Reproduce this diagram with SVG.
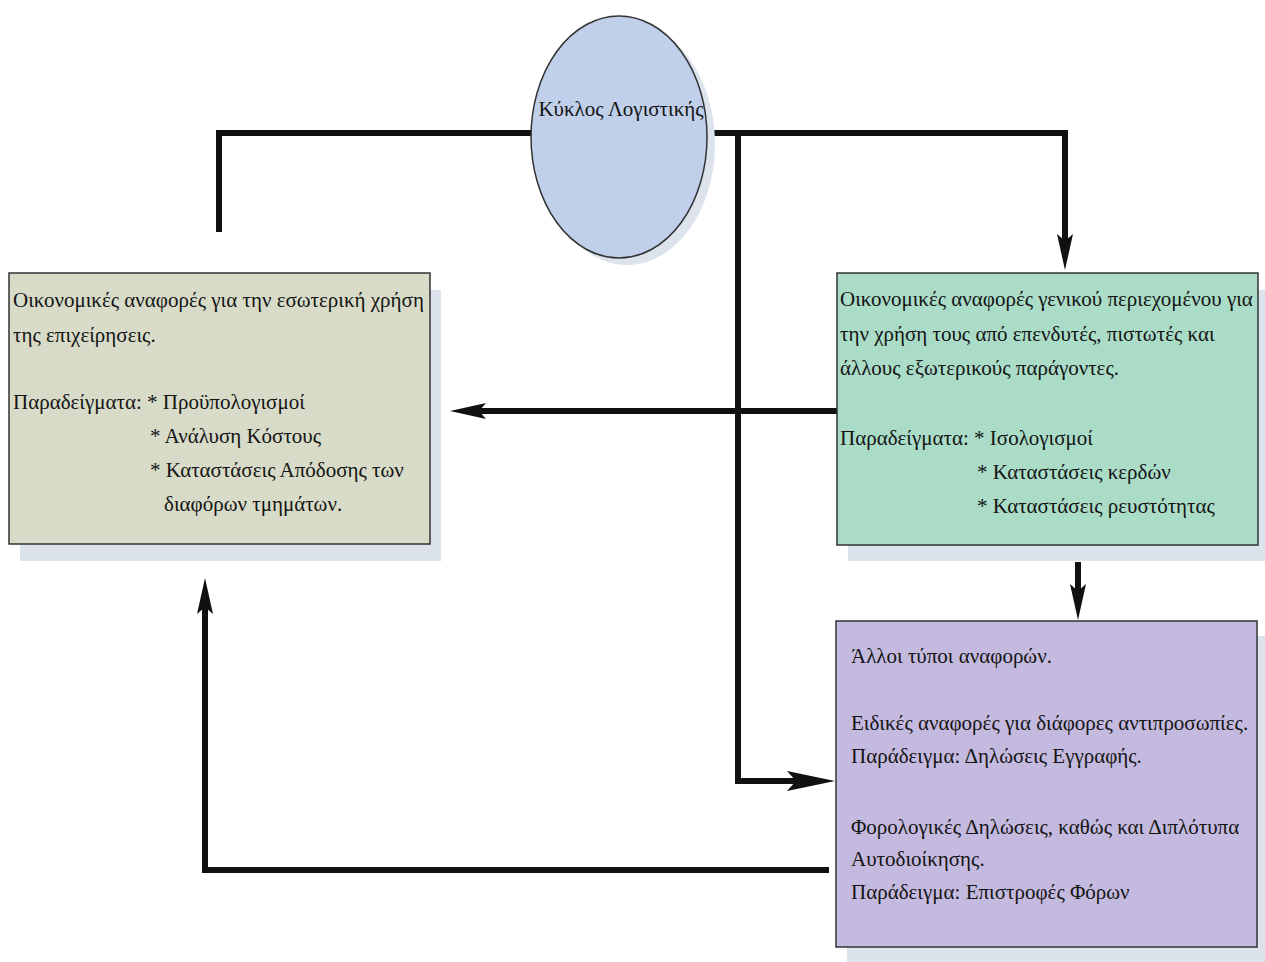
<svg xmlns="http://www.w3.org/2000/svg" width="1265" height="962" viewBox="0 0 1265 962">
<style>
.t{font-family:"Liberation Serif","Times New Roman",serif;font-size:21px;fill:#141414}
.box{stroke:#333;stroke-width:1.5}
.shadow{fill:#dce3ed}
.line{fill:none;stroke:#111;stroke-width:6;stroke-linejoin:miter}
</style>
<defs>
<marker id="arrowL" markerUnits="userSpaceOnUse" markerWidth="48" markerHeight="20" viewBox="0 0 48 20" refX="11" refY="10" orient="auto" overflow="visible">
<path d="M0,0 L48,10 L0,20 L9,10 z" fill="#111"/>
</marker>
<marker id="arrowM" markerUnits="userSpaceOnUse" markerWidth="36" markerHeight="16" viewBox="0 0 36 16" refX="9" refY="8" orient="auto" overflow="visible">
<path d="M0,0 L36,8 L0,16 L7,8 z" fill="#111"/>
</marker>
</defs>
<rect width="1265" height="962" fill="#fff"/>

<g id="connectors">
<path class="line" d="M219,232 L219,133 L1065,133 L1065,243" marker-end="url(#arrowM)"/>
<path class="line" d="M738,133 L738,781 L798,781" marker-end="url(#arrowL)"/>
<path class="line" d="M837,411 L477,411" marker-end="url(#arrowM)"/>
<path class="line" d="M1078,562 L1078,593" marker-end="url(#arrowM)"/>
<path class="line" d="M829,870 L205,870 L205,605" marker-end="url(#arrowM)"/>
</g>

<g id="node-cycle">
<ellipse class="shadow" cx="627" cy="144" rx="88" ry="121"/>
<ellipse cx="619" cy="137" rx="88" ry="121" fill="#c0d0ea" stroke="#333" stroke-width="1.5"/>
<text class="t" x="621" y="116" text-anchor="middle" font-size="18.5">Κύκλος Λογιστικής</text>
</g>

<g id="node-internal">
<rect class="shadow" x="20" y="290" width="421" height="271"/>
<rect class="box" x="9" y="273" width="421" height="271" fill="#d7dbc8"/>
<text class="t" x="13" y="307">Οικονομικές αναφορές για την εσωτερική χρήση</text>
<text class="t" x="13" y="342">της επιχείρησεις.</text>
<text class="t" x="13" y="409">Παραδείγματα: * Προϋπολογισμοί</text>
<text class="t" x="150" y="443">* Ανάλυση Κόστους</text>
<text class="t" x="150" y="477">* Καταστάσεις Απόδοσης των</text>
<text class="t" x="164" y="511">διαφόρων τμημάτων.</text>
</g>

<g id="node-external">
<rect class="shadow" x="848" y="290" width="417" height="271"/>
<rect class="box" x="837" y="273" width="421" height="272" fill="#aadcc8"/>
<text class="t" x="840" y="306">Οικονομικές αναφορές γενικού περιεχομένου για</text>
<text class="t" x="840" y="341">την χρήση τους από επενδυτές, πιστωτές και</text>
<text class="t" x="840" y="375">άλλους εξωτερικούς παράγοντες.</text>
<text class="t" x="840" y="445">Παραδείγματα: * Ισολογισμοί</text>
<text class="t" x="977" y="479">* Καταστάσεις κερδών</text>
<text class="t" x="977" y="513">* Καταστάσεις ρευστότητας</text>
</g>

<g id="node-other">
<rect class="shadow" x="847" y="636" width="418" height="326"/>
<rect class="box" x="836" y="621" width="421" height="326" fill="#c4badf"/>
<text class="t" x="851" y="663">Άλλοι τύποι αναφορών.</text>
<text class="t" x="851" y="730">Ειδικές αναφορές για διάφορες αντιπροσωπίες.</text>
<text class="t" x="851" y="763">Παράδειγμα: Δηλώσεις Εγγραφής.</text>
<text class="t" x="851" y="834">Φορολογικές Δηλώσεις, καθώς και Διπλότυπα</text>
<text class="t" x="851" y="866">Αυτοδιοίκησης.</text>
<text class="t" x="851" y="899">Παράδειγμα: Επιστροφές Φόρων</text>
</g>
</svg>
